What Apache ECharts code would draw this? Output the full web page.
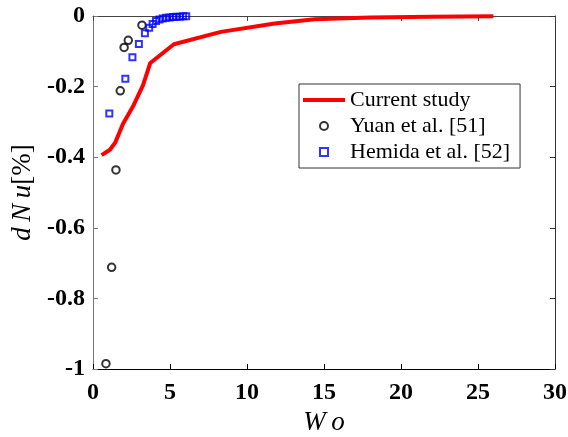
<!DOCTYPE html>
<html><head><meta charset="utf-8">
<script src="https://cdn.jsdelivr.net/npm/echarts@6/dist/echarts.min.js"></script>
<style>html,body{margin:0;padding:0;background:#fff}#c{width:568px;height:437px}</style>
</head><body><div id="c"></div>
<script>
// Current study (red line)
const currentWo  = [0.56, 1.10, 1.45, 1.95, 2.60, 3.25, 3.72, 5.25, 8.30, 11.8, 14.4, 18.0, 22.0, 26.0];
const currentDNu = [-0.394, -0.379, -0.358, -0.305, -0.256, -0.196, -0.133, -0.080, -0.045, -0.021, -0.009, -0.004, -0.002, -0.001];
// Yuan et al. [51] (black circles)
const yuanWo  = [0.84, 1.21, 1.49, 1.77, 2.02, 2.29, 3.18];
const yuanDNu = [-0.985, -0.712, -0.436, -0.212, -0.089, -0.069, -0.026];
// Hemida et al. [52] (blue squares)
const hemidaWo  = [1.06, 2.10, 2.56, 2.98, 3.37, 3.65, 3.87, 4.09, 4.31, 4.53, 4.75, 4.97, 5.19, 5.41, 5.63, 5.85, 6.05];
const hemidaDNu = [-0.276, -0.178, -0.117, -0.079, -0.049, -0.033, -0.023, -0.014, -0.010, -0.007, -0.005, -0.004, -0.003, -0.002, -0.002, -0.001, -0.001];
// Axis ticks
const xTicks = {min: 0, max: 30, interval: 5};
const yTicks = {min: -1, max: 0, interval: 0.2};
const seriesNames = ['Current study', 'Yuan et al. [51]', 'Hemida et al. [52]'];

const pair = (xs, ys) => xs.map((x, i) => [x, ys[i]]);
const serif = '"Liberation Serif", "Times New Roman", serif';
const chart = echarts.init(document.getElementById('c'));

const tickStyle = (c) => ({show: true, inside: true, length: 5, lineStyle: {color: c, width: 1}});

chart.setOption({
  animation: false,
  backgroundColor: '#fff',
  grid: {left: 93, right: 13, top: 16, bottom: 68, containLabel: false, outerBoundsMode: 'none'},
  legend: {
    show: true,
    orient: 'vertical', left: 299, top: 84,
    padding: [5, 10, 5, 4], itemGap: 4,
    itemWidth: 42, itemHeight: 8,
    symbolKeepAspect: true,
    borderColor: '#333', borderWidth: 1, backgroundColor: '#fff',
    textStyle: {fontFamily: serif, fontSize: 22, color: '#000', lineHeight: 22},
    data: [
      {name: seriesNames[0], icon: 'path://M0,0L42,0L42,4L0,4Z',
       itemStyle: {color: '#ff0000', borderWidth: 0}},
      {name: seriesNames[1], icon: 'circle',
       itemStyle: {color: 'transparent', borderColor: '#000', borderWidth: 2}},
      {name: seriesNames[2], icon: 'path://M0,0L10,0L10,10L0,10Z',
       itemStyle: {color: 'transparent', borderColor: '#0000ff', borderWidth: 2}}
    ]
  },
  xAxis: [
    {type: 'value', position: 'bottom', ...xTicks,
     axisLine: {show: true, onZero: false, lineStyle: {color: '#000', width: 1}},
     axisTick: tickStyle('#000'),
     axisLabel: {fontFamily: serif, fontWeight: 'bold', fontSize: 24, color: '#000', margin: 12},
     splitLine: {show: false},
     name: 'W\u2009o', nameLocation: 'middle', nameGap: 38,
     nameTextStyle: {fontFamily: serif, fontStyle: 'italic', fontSize: 27, color: '#000'}},
    {type: 'value', position: 'top', ...xTicks,
     axisLine: {show: true, onZero: false, lineStyle: {color: '#444', width: 1}},
     axisTick: tickStyle('#444'),
     axisLabel: {show: false}, splitLine: {show: false}}
  ],
  yAxis: [
    {type: 'value', position: 'left', ...yTicks,
     axisLine: {show: true, onZero: false, lineStyle: {color: '#777', width: 1}},
     axisTick: tickStyle('#777'),
     axisLabel: {fontFamily: serif, fontWeight: 'bold', fontSize: 24, color: '#000', margin: 8},
     splitLine: {show: false},
     name: '{i|d\u2009N\u2009u}{n|[%]}', nameLocation: 'middle', nameGap: 57, nameRotate: 90,
     nameTextStyle: {color: '#000', rich: {
       i: {fontFamily: serif, fontStyle: 'italic', fontSize: 27, color: '#000'},
       n: {fontFamily: serif, fontSize: 27, color: '#000'}}}},
    {type: 'value', position: 'right', ...yTicks,
     axisLine: {show: true, onZero: false, lineStyle: {color: '#333', width: 1}},
     axisTick: tickStyle('#333'),
     axisLabel: {show: false}, splitLine: {show: false}}
  ],
  series: [
    {name: seriesNames[0], type: 'line', xAxisIndex: 0, yAxisIndex: 0,
     data: pair(currentWo, currentDNu), symbol: 'none', showSymbol: false,
     lineStyle: {color: '#ff0000', width: 4}, itemStyle: {color: '#ff0000'}, z: 2},
    {name: seriesNames[1], type: 'scatter', xAxisIndex: 0, yAxisIndex: 0,
     data: pair(yuanWo, yuanDNu), symbol: 'circle', symbolSize: 7.5,
     itemStyle: {color: 'transparent', borderColor: '#000', borderWidth: 2}, z: 3},
    {name: seriesNames[2], type: 'scatter', xAxisIndex: 0, yAxisIndex: 0,
     data: pair(hemidaWo, hemidaDNu), symbol: 'rect', symbolSize: 6,
     itemStyle: {color: 'transparent', borderColor: '#0000ff', borderWidth: 2}, z: 3}
  ]
});
</script>
</body></html>
